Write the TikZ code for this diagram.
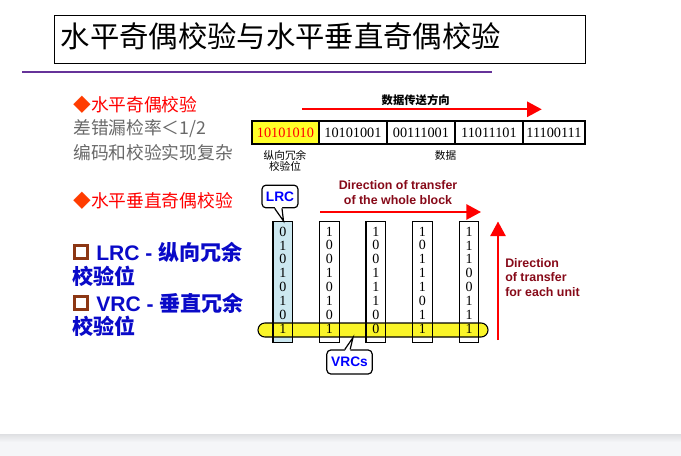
\documentclass[tikz,border=0pt]{standalone}
\usepackage{fontspec}
\setmainfont{Liberation Serif}
\newfontfamily\cjk{Noto Sans CJK SC}
\newfontfamily\sansf{Liberation Sans}
\usetikzlibrary{arrows.meta}

\definecolor{titlepurple}{RGB}{102,51,153}
\definecolor{bulletred}{RGB}{255,60,0}
\definecolor{textgray}{RGB}{105,105,105}
\definecolor{deepblue}{RGB}{10,10,200}
\definecolor{boxbrown}{RGB}{140,55,20}
\definecolor{maroon}{RGB}{135,10,25}
\definecolor{lrcblue}{RGB}{204,232,240}
\definecolor{vrcyellow}{RGB}{250,245,40}
\definecolor{cellyellow}{RGB}{255,255,40}
\definecolor{bandgray}{RGB}{245,246,248}
\definecolor{bandedge}{RGB}{222,223,226}

\tikzset{
  lefttext/.style={anchor=west, inner sep=0pt, font=\cjk\fontsize{13.3pt}{16pt}\selectfont},
  bluetext/.style={anchor=west, inner sep=0pt, text=deepblue, font=\cjk\bfseries\fontsize{15.8pt}{18pt}\selectfont},
  cell/.style={draw=black, line width=1.1pt, minimum width=50.5pt, minimum height=17.3pt, inner sep=0pt,
    font=\fontsize{10.7pt}{12pt}\selectfont},
  smallcjk/.style={inner sep=0pt, font=\cjk\fontsize{8pt}{9.5pt}\selectfont},
  column/.style={minimum width=14.4pt, minimum height=90pt, inner sep=0pt},
  bit/.style={inner sep=0pt, font=\fontsize{10.5pt}{12pt}\selectfont},
  engtext/.style={inner sep=0pt, text=maroon, align=left, font=\sansf\bfseries\fontsize{9.3pt}{11.2pt}\selectfont},
  callout/.style={draw=black, line width=0.9pt, fill=white, rounded corners=3pt, inner sep=0pt,
    text=blue, font=\sansf\bfseries\fontsize{10.3pt}{12pt}\selectfont},
  redarrow/.style={draw=red, line width=1.4pt, -{Triangle[length=11pt,width=11.5pt]}},
  brownsq/.style={draw=boxbrown, fill=white, line width=2.4pt, minimum size=9.6pt, inner sep=0pt}
}

\begin{document}
\begin{tikzpicture}[x=0.75pt,y=-0.75pt]
\useasboundingbox (0,0) rectangle (681,456);
\fill[white] (0,0) rectangle (681,456);

% footer band
\fill[bandgray] (0,434) rectangle (681,456);
\shade[top color=bandedge, bottom color=bandgray] (0,434) rectangle (681,442);

% title
\node[draw=black, line width=1.1pt, minimum width=398.2pt, minimum height=36pt, inner sep=0pt] (titlebox) at (319.9,39.3) {};
\node[anchor=west, inner sep=0pt, font=\cjk\fontsize{22pt}{26pt}\selectfont] (title) at (60.5,36)
  {水平奇偶校验与水平垂直奇偶校验};
\coordinate (rulel) at (22,72.3);
\coordinate (ruler) at (491.7,72.3);
\draw[titlepurple, line width=1.4pt] (rulel) -- (ruler);

% left column text
\node[lefttext, text=red] (h1) at (73,105) {{\color{bulletred}◆}水平奇偶校验};
\node[lefttext, text=textgray] (g1) at (73,129) {差错漏检率＜1/2};
\node[lefttext, text=textgray] (g2) at (73,153) {编码和校验实现复杂};
\node[lefttext, text=red] (h2) at (73,201) {{\color{bulletred}◆}水平垂直奇偶校验};

\node[brownsq] (sq1) at (81,252) {};
\node[bluetext] (b1) at (96,252) {{\sansf\bfseries LRC - }纵向冗余};
\node[bluetext] (b1b) at (72,276) {校验位};
\node[brownsq] (sq2) at (81,303) {};
\node[bluetext] (b2) at (96,303) {{\sansf\bfseries VRC - }垂直冗余};
\node[bluetext] (b2b) at (72,326) {校验位};

% upper figure: one frame of data
\node[smallcjk, font=\cjk\bfseries\fontsize{8.5pt}{10pt}\selectfont] (dirtop) at (415.7,100) {数据传送方向};
\coordinate (ta) at (302,109.3);
\coordinate (tb) at (541.7,109.3);
\draw[redarrow] (ta) -- (tb);

\node[cell, fill=cellyellow, text=red, minimum width=50.2pt] (w0) at (285.4,132.5) {10101010};
\node[cell, minimum width=50.8pt] (w1) at (352.9,132.5) {10101001};
\node[cell, minimum width=51.2pt] (w2) at (420.9,132.5) {00111001};
\node[cell, minimum width=50.8pt] (w3) at (488.9,132.5) {11011101};
\node[cell, minimum width=46.8pt] (w4) at (553.9,132.5) {11100111};

\node[smallcjk, align=center] (lrclabel) at (285,160.5) {纵向冗余\\[-1.3pt]校验位};
\node[smallcjk] (datalabel) at (445.5,155.7) {数据};

% lower figure: block with column parity
\node[engtext, align=center] (blockdir) at (398,192.5) {Direction of transfer\\of the whole block};
\coordinate (ba) at (320,212);
\coordinate (bb) at (481,212);
\draw[redarrow] (ba) -- (bb);

\coordinate (ua) at (498,340);
\coordinate (ub) at (498,221.5);
\draw[redarrow] (ua) -- (ub);
\node[engtext, anchor=west] (unitdir) at (505,277.5) {Direction\\of transfer\\for each unit};

% column fills
\foreach \i in {0,...,4} {
  \node[column] (c\i) at ({282.8+46.55*\i},282) {};
}
\fill[lrcblue] (c0.south west) rectangle (c0.north east);

% row of vertical redundancy checks
\node[draw=black, line width=0.8pt, fill=vrcyellow, rounded corners=5.2pt,
  minimum width=172.5pt, minimum height=10.5pt, inner sep=0pt] (vrcband) at (373,330) {};

% column outlines
\foreach \i in {0,...,4} {
  \draw[line width=0.9pt] (c\i.south west) rectangle (c\i.north east);
}

% column bits, first unit at the top
\foreach \i/\bits in {0/{0,1,0,1,0,1,0,1}, 1/{1,0,0,1,0,1,0,1}, 2/{1,0,0,1,1,1,0,0},
                      3/{1,0,1,1,1,0,1,1}, 4/{1,1,1,0,0,1,1,1}} {
  \foreach \b [count=\k from 0] in \bits {
    \node[bit] (d\i-\k) at ({282.8+46.55*\i},{231.5+13.9*\k}) {\b};
  }
}

% callouts
\node[callout, minimum width=27pt, minimum height=17pt] (lrc) at (280,196.5) {LRC};
\coordinate (lrctip) at (283.5,221);
\fill[white] ([xshift=-4pt,yshift=1.2pt]lrc.south) -- (lrctip) -- ([xshift=1.5pt,yshift=1.2pt]lrc.south) -- cycle;
\draw[line width=0.9pt] ([xshift=-4pt]lrc.south) -- (lrctip) -- ([xshift=1.5pt]lrc.south);

\node[callout, minimum width=34pt, minimum height=18pt] (vrcs) at (349.5,362) {VRCs};
\coordinate (vrctip) at (353,337.5);
\fill[white] ([xshift=-3.5pt,yshift=-1.2pt]vrcs.north) -- (vrctip) -- ([xshift=0.5pt,yshift=-1.2pt]vrcs.north) -- cycle;
\draw[line width=0.9pt] ([xshift=-3.5pt]vrcs.north) -- (vrctip) -- ([xshift=0.5pt]vrcs.north);
\end{tikzpicture}
\end{document}
